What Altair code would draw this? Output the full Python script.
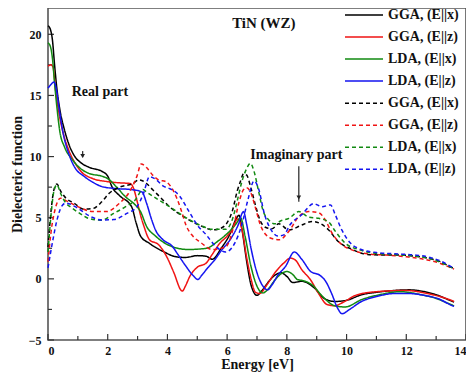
import altair as alt
import pandas as pd

# ---------------- data ----------------
KEYS = ["GGA, (E||x)#re", "GGA, (E||z)#re", "LDA, (E||x)#re", "LDA, (E||z)#re",
        "GGA, (E||x)#im", "GGA, (E||z)#im", "LDA, (E||x)#im", "LDA, (E||z)#im"]
LABELS = ["GGA, (E||x)", "GGA, (E||z)", "LDA, (E||x)", "LDA, (E||z)",
          "GGA, (E||x)", "GGA, (E||z)", "LDA, (E||x)", "LDA, (E||z)"]
COLORS = ["#000000", "#f01414", "#128a12", "#1414f0",
          "#000000", "#f01414", "#128a12", "#1414f0"]
DASHES = [[1, 0], [1, 0], [1, 0], [1, 0], [4, 3], [4, 3], [4, 3], [4, 3]]

# Real part, GGA E||x (black solid)
E_GGA_X_RE = [0, 0.08, 0.15, 0.22, 0.3, 0.4, 0.55, 0.7, 0.9, 1.1, 1.4, 1.8, 2.0, 2.15, 2.4, 2.8, 2.95,
              3.1, 3.4, 3.85, 4.3, 4.6, 5.0, 5.3, 5.5, 5.8, 6.1, 6.3, 6.4, 6.5, 6.65, 6.8, 7.0, 7.15,
              7.4, 7.6, 7.8, 8.0, 8.2, 8.5, 8.9, 9.25, 9.6, 10.0, 10.5, 11.0, 11.6, 12.1, 12.5, 13.0,
              13.5, 13.6]
V_GGA_X_RE = [20.7, 20.4, 19.5, 17.5, 15.5, 13.8, 12.2, 11.0, 10.0, 9.5, 9.1, 8.8, 8.4, 7.5, 6.8, 5.9,
              4.6, 3.5, 2.9, 2.25, 1.8, 1.75, 1.9, 1.85, 1.6, 2.5, 3.7, 4.9, 5.2, 4.0, 1.5, -0.5, -1.35,
              -1.0, -0.2, 0.3, 0.5, 0.2, -0.3, -0.2, -0.7, -1.6, -1.85, -1.75, -1.3, -1.1, -0.95, -0.9,
              -1.0, -1.3, -1.8, -1.9]

# Real part, GGA E||z (red solid)
E_GGA_Z_RE = [0, 0.1, 0.17, 0.25, 0.35, 0.5, 0.7, 0.9, 1.1, 1.5, 2.0, 2.4, 2.75, 2.85, 3.0, 3.1, 3.2,
              3.4, 3.7, 4.0, 4.2, 4.5, 4.6, 4.75, 5.0, 5.3, 5.5, 5.75, 6.0, 6.2, 6.35, 6.5, 6.65, 6.8,
              6.95, 7.1, 7.3, 7.6, 7.9, 8.12, 8.3, 8.5, 8.8, 9.05, 9.35, 9.6, 9.9, 10.3, 11.0, 12.0,
              12.7, 13.2, 13.5, 13.6]
V_GGA_Z_RE = [17.4, 17.5, 17.3, 15.5, 13.8, 12.0, 10.5, 9.5, 8.8, 8.2, 7.95, 7.85, 7.8, 7.5, 6.2, 5.2,
              4.4, 3.2, 2.8, 1.7, 0.6, -1.0, -0.6, 0.2, 0.95, 1.3, 2.0, 2.9, 3.5, 4.2, 4.9, 4.0, 1.8,
              0.0, -1.1, -1.2, -0.6, 0.5, 1.3, 1.7, 1.5, 0.75, -0.1, -1.15, -2.1, -2.2, -1.9, -1.35,
              -1.05, -0.95, -1.2, -1.5, -1.75, -1.85]

# Real part, LDA E||x (green solid)
E_LDA_X_RE = [0, 0.08, 0.15, 0.22, 0.3, 0.4, 0.55, 0.8, 1.1, 1.4, 1.8, 2.0, 2.3, 2.6, 2.9, 3.1, 3.3,
              3.6, 4.2, 4.7, 5.3, 5.7, 6.0, 6.3, 6.45, 6.6, 6.8, 7.0, 7.2, 7.35, 7.6, 7.8, 8.0, 8.2,
              8.35, 8.55, 8.85, 9.2, 9.6, 9.95, 10.5, 11.1, 11.8, 12.5, 13.0, 13.4, 13.6]
V_LDA_X_RE = [19.3, 19.0, 18.0, 16.0, 14.0, 12.0, 10.8, 9.8, 9.0, 8.6, 8.4, 8.2, 7.5, 6.7, 6.1, 5.5,
              4.3, 3.5, 2.6, 2.4, 2.5, 3.1, 3.7, 4.5, 5.0, 3.5, 1.0, -0.6, -1.15, -0.9, -0.1, 0.4,
              0.6, 0.35, -0.05, -0.15, -0.5, -1.45, -2.2, -2.3, -1.7, -1.3, -1.05, -1.3, -1.6, -2.0,
              -2.2]

# Real part, LDA E||z (blue solid)
E_LDA_Z_RE = [0, 0.1, 0.2, 0.28, 0.38, 0.5, 0.7, 0.9, 1.2, 1.5, 1.8, 2.2, 2.8, 3.15, 3.3, 3.45, 3.6,
              3.85, 4.15, 4.35, 4.6, 4.85, 5.02, 5.15, 5.35, 5.6, 5.8, 6.1, 6.35, 6.55, 6.65, 6.8,
              7.0, 7.2, 7.35, 7.5, 7.7, 7.95, 8.25, 8.5, 8.8, 9.1, 9.3, 9.5, 9.7, 9.85, 10.1, 10.5,
              11.0, 11.6, 12.1, 12.6, 13.1, 13.5, 13.6]
V_LDA_Z_RE = [15.6, 15.9, 16.1, 15.5, 13.8, 12.0, 10.2, 9.1, 8.4, 7.9, 7.55, 7.4, 7.3, 7.1, 6.2, 5.0,
              4.0, 3.2, 2.7, 2.0, 1.1, 0.3, -0.05, 0.3, 0.9, 1.6, 2.3, 3.2, 4.3, 5.5, 4.5, 2.5, 0.5,
              -0.6, -0.9, -0.5, 0.3, 1.0, 2.2, 1.6, 0.6, 0.3, -0.2, -1.2, -2.4, -2.85, -2.5, -1.85,
              -1.45, -1.2, -1.2, -1.35, -1.65, -2.15, -2.25]

# Imaginary part, GGA E||x (black dashed)
E_GGA_X_IM = [0, 0.1, 0.2, 0.3, 0.42, 0.6, 0.87, 1.2, 1.5, 1.8, 2.05, 2.4, 2.84, 3.05, 3.3, 3.5, 3.75,
              4.07, 4.6, 5.2, 5.5, 5.75, 6.0, 6.18, 6.34, 6.45, 6.55, 6.65, 6.8, 6.95, 7.1, 7.3, 7.5,
              7.73, 8.07, 8.5, 8.85, 9.1, 9.4, 9.7, 10.2, 10.7, 11.2, 11.7, 12.3, 12.8, 13.2, 13.5,
              13.6]
V_GGA_X_IM = [2.6, 5.5, 7.3, 7.75, 7.2, 6.6, 6.2, 5.7, 5.75, 6.3, 7.0, 7.5, 7.8, 8.1, 7.8, 7.3, 6.7,
              5.9, 5.0, 4.25, 4.0, 4.1, 4.6, 5.6, 7.2, 8.0, 8.6, 8.5, 7.4, 6.0, 4.8, 4.2, 4.1, 4.5,
              4.0, 4.4, 4.7, 4.55, 4.0, 3.1, 2.4, 2.0, 1.95, 1.95, 1.85, 1.65, 1.35, 0.95, 0.85]

# Imaginary part, GGA E||z (red dashed)
E_GGA_Z_IM = [0, 0.1, 0.25, 0.42, 0.6, 0.8, 1.1, 1.5, 1.95, 2.4, 2.75, 2.98, 3.12, 3.3, 3.5, 3.7,
              3.95, 4.2, 4.45, 4.62, 4.85, 5.1, 5.5, 5.95, 6.2, 6.4, 6.55, 6.65, 6.8, 6.95, 7.1, 7.3,
              7.5, 7.75, 8.07, 8.4, 8.73, 9.07, 9.29, 9.51, 9.84, 10.2, 10.7, 11.3, 12.0, 12.6, 13.1,
              13.5, 13.6]
V_GGA_Z_IM = [1.4, 3.8, 5.8, 6.6, 6.4, 6.15, 5.8, 5.5, 5.5, 6.2, 7.2, 8.4, 9.4, 9.1, 8.5, 8.1, 7.95,
              7.2, 5.7, 4.4, 3.5, 3.0, 2.4, 2.6, 4.1, 6.3, 7.3, 7.45, 7.0, 5.8, 4.5, 3.6, 3.3, 3.2, 3.9,
              5.1, 5.5, 5.4, 4.8, 3.75, 2.8, 2.35, 2.05, 1.95, 1.8, 1.6, 1.3, 0.9, 0.8]

# Imaginary part, LDA E||x (green dashed)
E_LDA_X_IM = [0, 0.1, 0.2, 0.3, 0.42, 0.6, 0.8, 1.1, 1.35, 1.8, 2.2, 2.6, 2.92, 3.18, 3.3, 3.55,
              4.07, 4.62, 5.18, 5.5, 5.95, 6.18, 6.35, 6.5, 6.65, 6.78, 6.9, 7.05, 7.2, 7.4, 7.6, 7.8,
              8.07, 8.4, 8.73, 9.07, 9.4, 9.62, 9.96, 10.4, 10.96, 11.6, 12.3, 12.8, 13.2, 13.5, 13.6]
V_LDA_X_IM = [2.2, 5.2, 7.2, 7.7, 7.0, 6.2, 5.8, 5.3, 4.95, 4.8, 5.35, 5.9, 6.45, 7.3, 7.1, 6.7, 5.9,
              5.0, 4.3, 4.05, 4.05, 4.9, 6.5, 8.0, 9.0, 9.45, 8.8, 7.2, 5.6, 4.8, 4.5, 4.75, 4.95,
              5.5, 5.05, 4.95, 4.65, 3.9, 2.9, 2.4, 2.1, 2.0, 1.85, 1.65, 1.3, 0.95, 0.85]

# Imaginary part, LDA E||z (blue dashed)
E_LDA_Z_IM = [0, 0.15, 0.3, 0.45, 0.6, 0.98, 1.42, 1.81, 2.2, 2.64, 2.98, 3.2, 3.4, 3.6, 3.85, 4.1,
              4.4, 4.7, 5.0, 5.3, 5.6, 5.95, 6.25, 6.5, 6.7, 6.9, 7.05, 7.25, 7.5, 7.7, 7.9, 8.1, 8.5,
              8.9, 9.18, 9.46, 9.62, 9.84, 10.12, 10.5, 11.0, 11.6, 12.3, 12.8, 13.2, 13.5, 13.6]
V_LDA_Z_IM = [0.9, 3.0, 4.8, 5.9, 6.2, 5.8, 5.1, 4.82, 4.85, 5.35, 5.9, 7.0, 8.35, 8.15, 7.6, 7.35,
              6.8, 5.6, 4.4, 3.6, 2.7, 2.2, 2.9, 4.5, 6.5, 8.0, 7.4, 5.3, 3.9, 3.5, 3.6, 4.4, 5.25,
              6.15, 5.9, 6.05, 5.25, 4.0, 2.95, 2.4, 2.15, 2.05, 1.95, 1.75, 1.4, 1.0, 0.9]

X_TICK_LABELS = [0, 2, 4, 6, 8, 10, 12, 14]
X_MINOR = [1, 3, 5, 7, 9, 11, 13]
Y_TICK_LABELS = [-5, 0, 5, 10, 15, 20]
Y_MINOR = [-2.5, 2.5, 7.5, 12.5, 17.5]

NOTE_TEXT = ["TiN (WZ)", "Real part", "Imaginary part"]
NOTE_E = [7.23, 1.74, 8.32]
NOTE_V = [20.9, 15.25, 10.13]
NOTE_SIZE = [15, 14, 14]

ARROW_E = [1.16, 8.4]
ARROW_TOP = [10.45, 9.2]
ARROW_BOTTOM = [9.95, 6.3]
ARROW_HEAD = [10.05, 6.65]

# ---------------- build tables ----------------
series = [
    (E_GGA_X_RE, V_GGA_X_RE), (E_GGA_Z_RE, V_GGA_Z_RE), (E_LDA_X_RE, V_LDA_X_RE), (E_LDA_Z_RE, V_LDA_Z_RE),
    (E_GGA_X_IM, V_GGA_X_IM), (E_GGA_Z_IM, V_GGA_Z_IM), (E_LDA_X_IM, V_LDA_X_IM), (E_LDA_Z_IM, V_LDA_Z_IM),
]
rows = []
for k, (es, vs) in zip(KEYS, series):
    for e, v in zip(es, vs):
        rows.append({"E": e, "v": v, "key": k})
df = pd.DataFrame(rows)

FONT = "Liberation Serif"
W, H = 418, 332

xscale = alt.Scale(domain=[0, 14], nice=False, zero=False)
yscale = alt.Scale(domain=[-5, 22.15], nice=False, zero=False)
cscale = alt.Scale(domain=KEYS, range=COLORS)
dscale = alt.Scale(domain=KEYS, range=DASHES)

lines = alt.Chart(df).mark_line(strokeWidth=1.5, interpolate="monotone").encode(
    x=alt.X("E:Q", scale=xscale,
            axis=alt.Axis(values=X_TICK_LABELS, title="Energy [eV]", format="d",
                          labelPadding=5, titlePadding=1)),
    y=alt.Y("v:Q", scale=yscale,
            axis=alt.Axis(values=Y_TICK_LABELS, title="Dielecteric function", format="d",
                          labelPadding=7, titlePadding=4)),
    color=alt.Color("key:N", scale=cscale, legend=None),
    strokeDash=alt.StrokeDash("key:N", scale=dscale, legend=None),
)

# inward ticks
xt_major = alt.Chart(pd.DataFrame({"E": X_TICK_LABELS})).mark_rule(color="#333", strokeWidth=1.2).encode(
    x=alt.X("E:Q", scale=xscale), y=alt.value(H), y2=alt.value(H - 6))
xt_minor = alt.Chart(pd.DataFrame({"E": X_MINOR})).mark_rule(color="#333", strokeWidth=1.2).encode(
    x=alt.X("E:Q", scale=xscale), y=alt.value(H), y2=alt.value(H - 4))
yt_major = alt.Chart(pd.DataFrame({"v": Y_TICK_LABELS})).mark_rule(color="#333", strokeWidth=1.2).encode(
    y=alt.Y("v:Q", scale=yscale), x=alt.value(0), x2=alt.value(6))
yt_minor = alt.Chart(pd.DataFrame({"v": Y_MINOR})).mark_rule(color="#333", strokeWidth=1.2).encode(
    y=alt.Y("v:Q", scale=yscale), x=alt.value(0), x2=alt.value(4))

# annotations
notes = alt.Chart(pd.DataFrame({"E": NOTE_E, "v": NOTE_V, "t": NOTE_TEXT, "s": NOTE_SIZE})).mark_text(
    font=FONT, fontWeight="bold", color="#111", align="center", baseline="middle").encode(
    x=alt.X("E:Q", scale=xscale), y=alt.Y("v:Q", scale=yscale), text="t:N",
    size=alt.Size("s:Q", scale=None, legend=None))

arrow_df = pd.DataFrame({"E": ARROW_E, "top": ARROW_TOP, "bottom": ARROW_BOTTOM, "head": ARROW_HEAD})
arrow_stem = alt.Chart(arrow_df).mark_rule(color="#333", strokeWidth=1.3).encode(
    x=alt.X("E:Q", scale=xscale), y=alt.Y("top:Q", scale=yscale), y2="bottom:Q")
arrow_head = alt.Chart(arrow_df).mark_point(shape="triangle-down", filled=True, size=22,
                                            color="#222", opacity=1).encode(
    x=alt.X("E:Q", scale=xscale), y=alt.Y("head:Q", scale=yscale))

# legend (drawn by hand so labels may repeat)
leg_df = pd.DataFrame({"key": KEYS, "label": LABELS, "row": list(range(len(KEYS)))})
leg_base = alt.Chart(leg_df).transform_calculate(py="7 + 22.04 * datum.row")
leg_sym = leg_base.mark_rule(strokeWidth=1.5).encode(
    x=alt.value(297), x2=alt.value(335),
    y=alt.Y("py:Q", scale=None, axis=None),
    color=alt.Color("key:N", scale=cscale, legend=None),
    strokeDash=alt.StrokeDash("key:N", scale=dscale, legend=None),
)
leg_txt = leg_base.mark_text(font=FONT, fontWeight="bold", fontSize=14, color="#111",
                             align="left", baseline="middle").encode(
    x=alt.value(340), y=alt.Y("py:Q", scale=None, axis=None), text="label:N")

chart = alt.layer(
    xt_major, xt_minor, yt_major, yt_minor, lines, notes, arrow_stem, arrow_head, leg_sym, leg_txt
).properties(
    width=W, height=H,
    autosize=alt.AutoSizeParams(type="none"),
    padding={"left": 40, "top": 0, "right": 0, "bottom": 36},
).configure_view(
    stroke="#555555", strokeWidth=1.6
).configure_axis(
    grid=False, domain=False, ticks=False,
    labelFont=FONT, labelFontWeight="bold", labelFontSize=12, labelColor="#111",
    titleFont=FONT, titleFontWeight="bold", titleFontSize=14, titleColor="#111",
)

chart.save("out.html", embed_options={"renderer": "svg", "actions": False})
